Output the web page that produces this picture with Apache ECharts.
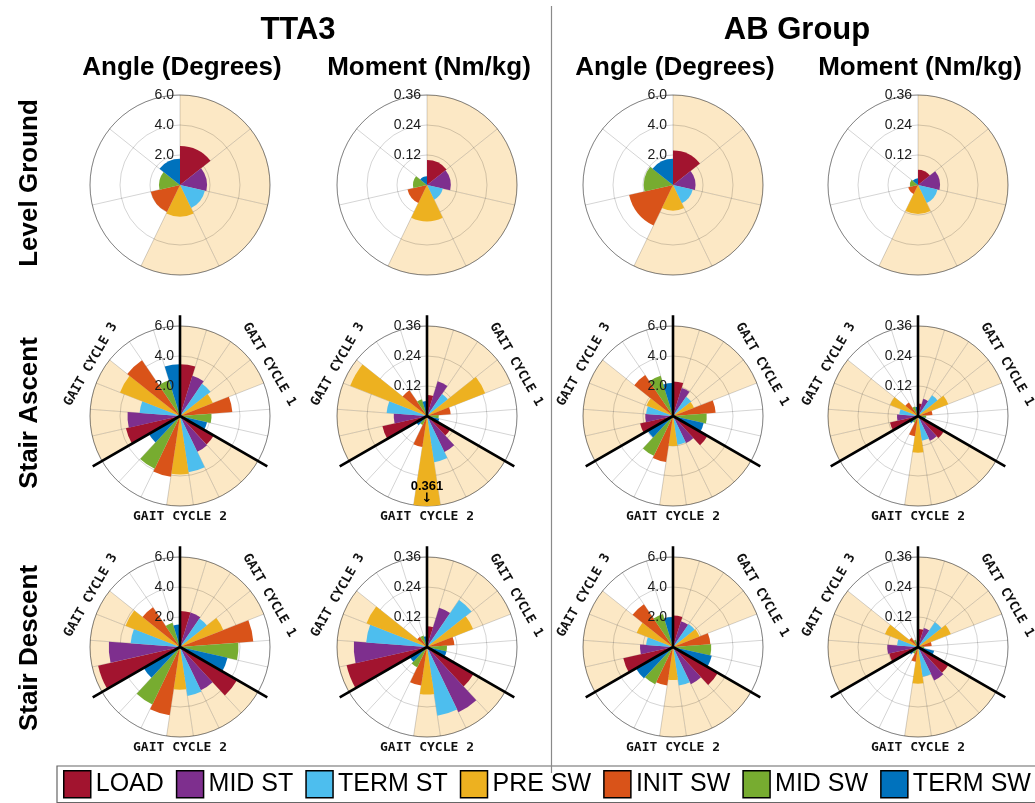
<!DOCTYPE html>
<html><head><meta charset="utf-8">
<script src="https://cdn.jsdelivr.net/npm/echarts@6/dist/echarts.min.js"></script>
<style>html,body{margin:0;padding:0;background:#fff}#c{width:1035px;height:803px}</style>
</head><body><div id="c"></div>
<script>
// ---------- data ----------
const phases = ['LOAD','MID ST','TERM ST','PRE SW','INIT SW','MID SW','TERM SW'];
const phaseColors = ['#A2142F','#7E2F8E','#4DBEEE','#EDB120','#D95319','#77AC30','#0072BD'];
const groups = ['TTA3','AB Group'];
const measures = ['Angle (Degrees)','Moment (Nm/kg)'];
const tasks = ['Level Ground','Stair Ascent','Stair Descent'];
const cycleLabels = ['GAIT CYCLE 1','GAIT CYCLE 2','GAIT CYCLE 3'];
const angleTicks = {max:6.0, interval:2.0, digits:1};
const momentTicks = {max:0.36, interval:0.12, digits:2};

// Level ground (one gait cycle, 7 phases)
const lgAngTTA3 = [2.6, 1.8, 1.7, 2.1, 2.0, 1.4, 1.75];
const lgMomTTA3 = [0.100, 0.095, 0.065, 0.145, 0.080, 0.056, 0.035];
const lgAngAB   = [2.3, 1.5, 1.35, 1.7, 3.0, 1.95, 1.75];
const lgMomAB   = [0.061, 0.088, 0.080, 0.115, 0.040, 0.033, 0.027];
// Stair ascent (3 gait cycles x 7 phases)
const saAngTTA3 = [3.45,2.8,2.6,2.35,3.5,2.1,1.85, 2.6,2.65,3.8,3.9,4.1,3.9,2.4, 3.7,3.5,2.7,4.3,4.5,2.5,3.45];
const saMomTTA3 = [0.084,0.145,0.107,0.25,0.095,0.047,0.05, 0.107,0.16,0.187,0.361,0.125,0.04,0.05, 0.183,0.133,0.162,0.33,0.125,0.07,0.06];
const saAngAB   = [2.3,1.95,1.55,1.5,2.85,2.25,2.1, 2.65,2.0,1.95,2.0,3.1,2.95,1.95, 2.25,1.85,1.8,1.9,3.3,2.8,2.2];
const saMomAB   = [0.05,0.072,0.1,0.13,0.058,0.033,0.03, 0.12,0.11,0.1,0.147,0.082,0.03,0.04, 0.115,0.084,0.075,0.12,0.065,0.04,0.037];
// Stair descent (3 gait cycles x 7 phases)
const sdAngTTA3 = [2.4,2.4,2.3,3.1,4.9,3.9,3.25, 4.4,3.2,3.3,2.85,4.6,4.25,2.8, 5.6,4.75,3.3,3.9,3.2,1.7,1.5];
const sdMomTTA3 = [0.083,0.164,0.228,0.198,0.11,0.08,0.08, 0.215,0.29,0.278,0.19,0.156,0.09,0.08, 0.33,0.293,0.244,0.26,0.05,0.048,0.043];
const sdAngAB   = [2.1,1.8,1.85,1.9,2.5,2.55,2.65, 3.45,2.75,2.6,2.2,2.6,2.75,2.85, 3.4,2.2,1.8,2.6,3.45,2.3,2.0];
const sdMomAB   = [0.072,0.08,0.12,0.141,0.055,0.025,0.066, 0.141,0.149,0.12,0.147,0.06,0.03,0.04, 0.118,0.123,0.084,0.142,0.045,0.03,0.02];

// ---------- layout ----------
const colX = [180, 427, 673, 918];
const rowY = [185, 416, 647];
const R = 90;
const beige = '#FCE8C5';
const FONT = '"Liberation Sans", Arial, sans-serif';

const panels = [
  {row:0,col:0,data:lgAngTTA3,t:angleTicks},{row:0,col:1,data:lgMomTTA3,t:momentTicks},
  {row:0,col:2,data:lgAngAB,t:angleTicks},{row:0,col:3,data:lgMomAB,t:momentTicks},
  {row:1,col:0,data:saAngTTA3,t:angleTicks},{row:1,col:1,data:saMomTTA3,t:momentTicks},
  {row:1,col:2,data:saAngAB,t:angleTicks},{row:1,col:3,data:saMomAB,t:momentTicks},
  {row:2,col:0,data:sdAngTTA3,t:angleTicks},{row:2,col:1,data:sdMomTTA3,t:momentTicks},
  {row:2,col:2,data:sdAngAB,t:angleTicks},{row:2,col:3,data:sdMomAB,t:momentTicks}
];

const polar=[], angleAxis=[], radiusAxis=[], series=[], graphic=[];

function addPanel(p){
  const s = p.t, cx = colX[p.col], cy = rowY[p.row];
  const cats = p.data.map((_, i) => String(i));
  const stair = p.data.length > 7;
  // polar A: background, grid, data
  let pi = polar.length;
  polar.push({center:[cx,cy], radius:[0,R]});
  angleAxis.push({polarIndex:pi, type:'category', data:cats, startAngle:90, clockwise:true, boundaryGap:true, z:2,
    axisLine:{show:true, lineStyle:{color:'rgba(0,0,0,0.38)', width:1}},
    axisTick:{show:false}, axisLabel:{show:false, interval:0},
    splitLine:{show:true, interval:0, lineStyle:{color:'rgba(0,0,0,0.17)', width:1}}});
  radiusAxis.push({polarIndex:pi, type:'value', min:0, max:s.max, interval:s.interval, z:2,
    axisLine:{show:false}, axisTick:{show:false}, axisLabel:{show:false},
    splitLine:{show:true, lineStyle:{color:'rgba(0,0,0,0.17)', width:1}}});
  series.push({type:'bar', coordinateSystem:'polar', polarIndex:pi, stack:'bg'+pi, z:1, silent:true,
    barCategoryGap:'0%', barGap:'-100%', itemStyle:{color:beige},
    data: cats.map((_, i) => (i % 7) < 4 ? s.max : '-')});
  phases.forEach((name, k) => {
    series.push({type:'bar', coordinateSystem:'polar', polarIndex:pi, name, stack:'d'+pi, z:3,
      barCategoryGap:'0%', barGap:'-100%', itemStyle:{color:phaseColors[k]},
      data: p.data.map((v, i) => {
        if (i % 7 !== k) return '-';
        if (v <= s.max) return v;
        return {value:v, label:{show:true, position:'insideEnd', rotate:0, distance:27,
          formatter:'{v|' + v.toFixed(3) + '}\n{a|↓}',
          rich:{v:{fontSize:13, fontWeight:'bold', color:'#000', fontFamily:FONT, lineHeight:14, align:'center'},
                a:{fontSize:13, fontWeight:'bold', color:'#000', fontFamily:'"DejaVu Sans"', lineHeight:12, align:'center'}}}};
      })});
  });
  // polar B: radius tick labels on top
  pi = polar.length;
  polar.push({center:[cx,cy], radius:[0,R]});
  angleAxis.push({polarIndex:pi, type:'value', min:0, max:360, startAngle:90, show:false});
  radiusAxis.push({polarIndex:pi, type:'value', min:0, max:s.max, interval:s.interval, z:6,
    axisLine:{show:false}, axisTick:{show:false}, splitLine:{show:false},
    axisLabel:{show:true, margin:6, align:'right', fontSize:14, color:'#1a1a1a', fontFamily:FONT, showMinLabel:false,
      formatter: v => v === 0 ? '' : v.toFixed(s.digits)}});
  // polar C: gait-cycle dividers
  if (stair){
    pi = polar.length;
    polar.push({center:[cx,cy], radius:[0,R*1.12]});
    angleAxis.push({polarIndex:pi, type:'category', data:cycleLabels, startAngle:90, clockwise:true, boundaryGap:true, z:5,
      axisLine:{show:false}, axisTick:{show:false}, axisLabel:{show:false},
      splitLine:{show:true, interval:0, lineStyle:{color:'#000', width:2.6}}});
    radiusAxis.push({polarIndex:pi, type:'value', min:0, max:1, show:false, splitLine:{show:false}});
    cycleLabels.forEach((txt, k) => {
      const th = (k + 0.5) * 120 * Math.PI / 180;
      const d = k === 1 ? 101 : 103;
      let rot = 0;
      if (k === 0) rot = -Math.PI/3;
      if (k === 2) rot = Math.PI/3;
      graphic.push({type:'text', x: cx + d*Math.sin(th), y: cy - d*Math.cos(th), rotation: rot, z:10,
        style:{text:txt, font:'bold 13px "DejaVu Sans Mono", monospace', fill:'#111',
          textAlign:'center', textVerticalAlign:'middle'}});
    });
  }
}
panels.forEach(addPanel);

// titles
const groupX = [298, 797];
groups.forEach((g, i) => {
  graphic.push({type:'text', x:groupX[i], y:30, z:10,
    style:{text:g, font:'bold 31px ' + FONT, fill:'#000', textAlign:'center', textVerticalAlign:'middle'}});
});
colX.forEach((x, i) => {
  graphic.push({type:'text', x:x+2, y:68, z:10,
    style:{text:measures[i % 2], font:'bold 26px ' + FONT, fill:'#000', textAlign:'center', textVerticalAlign:'middle'}});
});
const rowLabelY = [183, 413, 648];
tasks.forEach((t, i) => {
  graphic.push({type:'text', x:30, y:rowLabelY[i], rotation:Math.PI/2, z:10,
    style:{text:t, font:'bold 26px ' + FONT, fill:'#000', textAlign:'center', textVerticalAlign:'middle'}});
});
graphic.push({type:'line', z:10, shape:{x1:551.5, y1:6, x2:551.5, y2:773}, style:{stroke:'#8a8a8a', lineWidth:1.2}});

const chart = echarts.init(document.getElementById('c'), null, {renderer:'canvas'});
chart.setOption({
  animation:false,
  backgroundColor:'#fff',
  polar, angleAxis, radiusAxis, series, graphic,
  legend:{data:phases, left:57, top:766, width:1100, itemWidth:27, itemHeight:27, itemGap:12, icon:'rect', selectedMode:false,
    borderColor:'#666', borderWidth:1.2, padding:[4,6,4,6],
    itemStyle:{borderColor:'#000', borderWidth:1.5},
    textStyle:{fontSize:25, color:'#000', fontFamily:FONT}}
});
</script></body></html>
